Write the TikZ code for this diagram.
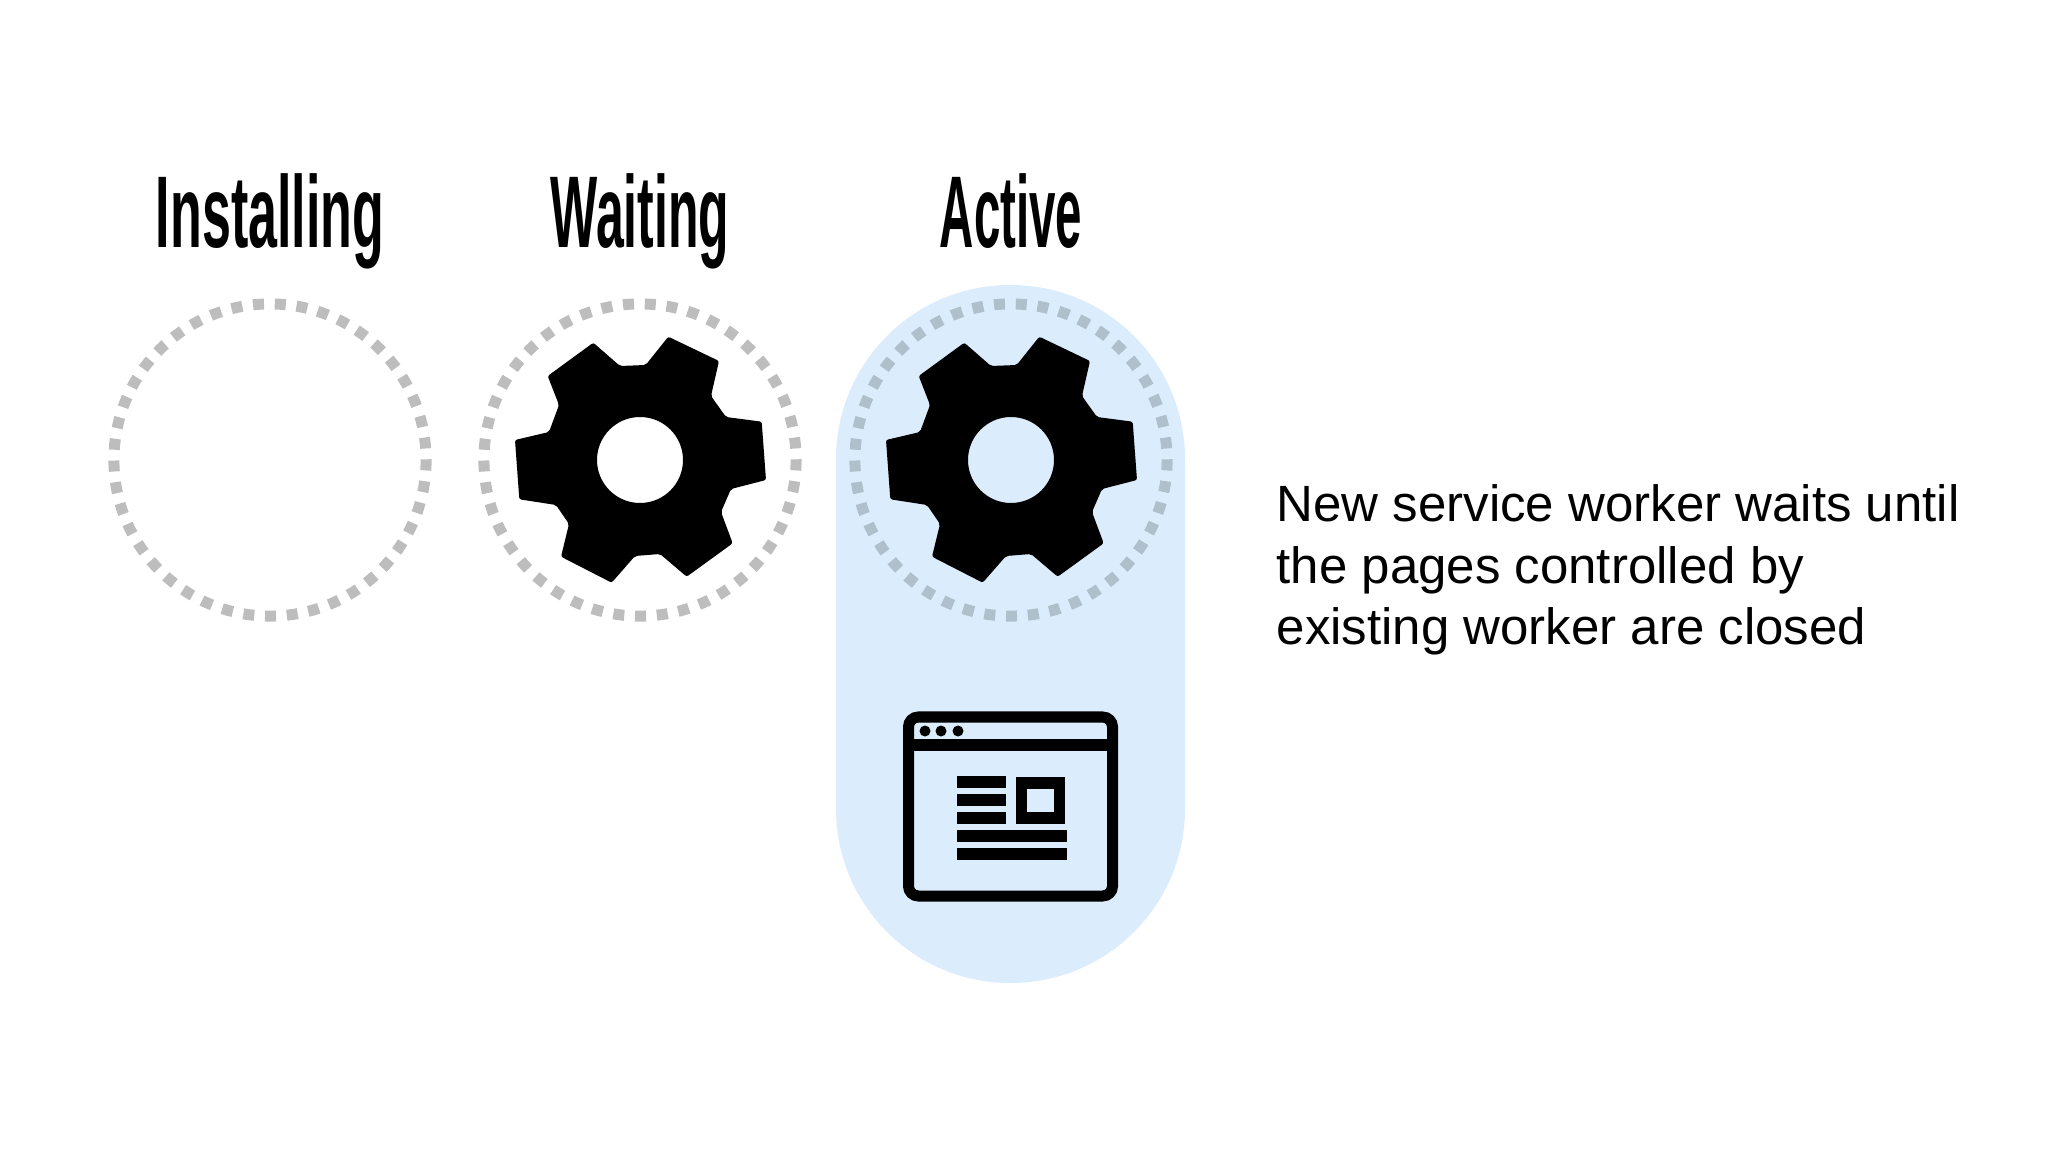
\documentclass[tikz,border=0pt]{standalone}
\usepackage{fontspec}
\setmainfont{Liberation Sans}
\usepackage{xcolor}
\usetikzlibrary{positioning}
\definecolor{pillblue}{HTML}{DBECFC}
\definecolor{ringgray}{HTML}{BDBDBD}
\definecolor{ringblue}{HTML}{AFBFCC}
\tikzset{
  ring/.style={circle, draw=#1, line width=0.11cm, minimum size=3.12cm, inner sep=0pt, outer sep=0pt,
    dash pattern=on 0.11cm off 0.1078cm, dash phase=0.1028cm},
  phase/.style={font=\bfseries\fontsize{29}{29}\selectfont, anchor=base, inner sep=0pt, transform shape, xscale=#1},
  iconline/.style={line width=0.11cm, draw=black},
  gearicon/.pic={
    \fill[black, even odd rule, rounded corners=0.6pt]
      (86,-43) -- (121.7,-38.3) -- (126,20) -- (91,29) -- (81,52)
      -- (92.7,83.3) -- (46.7,116.7) -- (20,94) -- (-5,96)
      -- (-28.3,122.7) -- (-79,96.7) -- (-71,64) -- (-84,45)
      -- (-120.7,39.3) -- (-125,-20) -- (-91,-28) -- (-81,-55)
      -- (-92.3,-84) -- (-46.7,-117.3) -- (-20,-94) -- (5.7,-95)
      -- (28.3,-123.3) -- (79,-99) -- (71,-64) -- cycle
      (0,0) circle[radius=43];
  }
}
\begin{document}
\begin{tikzpicture}[x=0.01cm, y=-0.01cm]
  \useasboundingbox (0,0) rectangle (2048,1152);
  % draw highlight behind active worker
  \fill[pillblue, rounded corners=1.74cm] (836,285) rectangle (1185,983);
  % draw phase labels and dotted rings
  \foreach \name/\x/\col/\squeeze [count=\step from 1] in {Installing/270/ringgray/0.51,Waiting/640/ringgray/0.49,Active/1011/ringblue/0.465} {
    \node[phase=\squeeze] (label\step) at (\x,248) {\name};
    \node[ring=\col] (ring\step) at (\x,460) {};
  }
  % draw gears
  \pic (gear2) at (640,460) {gearicon};
  \pic (gear3) at (1011,460) {gearicon};
  % draw browser window
  \draw[iconline, rounded corners=2.8pt] (908.5,717) rectangle (1112.5,896);
  \draw[iconline] (908,745) -- (1113,745);
  \foreach \x in {925,941,958}
    \fill (\x,731) circle[radius=5.5];
  \foreach \y in {782,800,818}
    \draw[iconline] (957,\y) -- (1006,\y);
  \foreach \y in {836,854}
    \draw[iconline] (957,\y) -- (1067,\y);
  \draw[iconline] (1021,783) rectangle (1059,818);
  % draw caption
  \node[anchor=north west, align=left, inner sep=0pt, font=\fontsize{14.5}{17.5}\selectfont] (caption) at (1276,484)
    {New service worker waits until\\the pages controlled by\\existing worker are closed};
\end{tikzpicture}
\end{document}
